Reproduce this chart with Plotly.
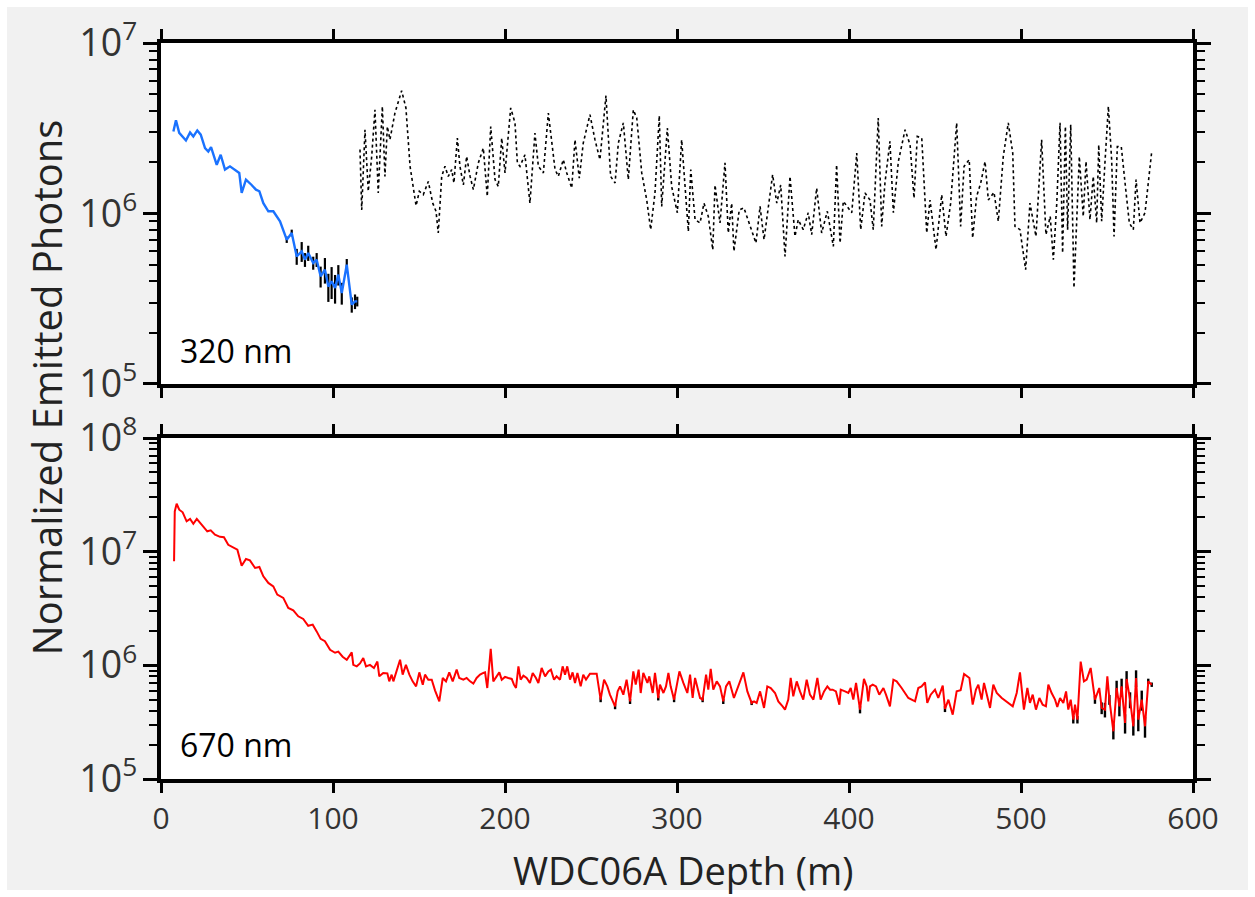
import plotly.graph_objects as go

# ---------------- data ----------------
blue_depth = [7.2, 8.7, 10.6, 14.5, 16.9, 18.8, 21.1, 23.1, 25.6, 27.5, 29.1, 32.4, 34.7, 37.2, 40.1,
              43.6, 45.5, 46.9, 49.4, 52.7, 55.2, 57.2, 59.5, 62.4, 65.3, 69.2, 73.1, 76.0, 78.9, 81.8,
              83.7, 85.6, 88.5, 90.5, 92.8, 95.3, 97.3, 99.2, 101.2, 103.1, 105.1, 108.0, 110.9, 112.8, 114.1]
blue_val = [3.03e6, 3.52e6, 2.97e6, 2.68e6, 2.99e6, 2.83e6, 3.07e6, 2.90e6, 2.42e6, 2.31e6,
            2.45e6, 1.93e6, 2.21e6, 1.81e6, 1.89e6, 1.77e6, 1.73e6, 1.32e6, 1.58e6, 1.47e6,
            1.38e6, 1.35e6, 1.15e6, 1.03e6, 1.03e6, 8.99e5, 7.02e5, 7.69e5, 5.60e5, 6.00e5,
            5.36e5, 5.87e5, 5.13e5, 5.36e5, 4.28e5, 4.68e5, 3.73e5, 4.00e5, 3.66e5, 4.38e5,
            3.42e5, 5.01e5, 2.92e5, 3.05e5, 3.05e5]
blue_err_depth = [73.1, 76.0, 78.9, 81.8, 83.7, 85.6, 88.5, 90.5, 92.8, 95.3, 97.3, 99.2, 101.2,
                  103.1, 105.1, 108.0, 110.9, 112.8, 114.1]
blue_err = [3e4, 3.5e4, 6e4, 8e4, 5e4, 6e4, 4.5e4, 5e4, 6e4, 8e4, 7e4, 8.5e4, 7e4,
            6e4, 5e4, 4e4, 3e4, 3e4, 2e4]

dot_depth = [115.7, 116.7, 118.6, 120.5, 122.5, 124.4, 126.3, 128.7, 130.2, 131.6, 133.1, 136.0, 139.9,
             142.4, 144.8, 146.7, 148.3, 150.2, 152.5, 155.4, 158.0, 159.9, 161.2, 163.2, 165.1, 167.0,
             169.0, 170.3, 172.3, 173.8, 175.8, 177.7, 179.7, 181.6, 184.5, 187.4, 189.7, 191.7, 194.2,
             196.1, 198.1, 200.0, 203.3, 205.8, 207.2, 208.7, 211.6, 214.5, 217.4, 219.4, 222.3, 225.2,
             229.1, 231.0, 233.9, 235.9, 238.8, 240.7, 243.2, 245.5, 249.4, 252.3, 255.2, 258.7, 261.4,
             264.0, 265.9, 268.8, 271.7, 274.6, 276.6, 279.5, 282.4, 284.7, 287.2, 289.7, 291.1, 294.4,
             296.9, 300.2, 302.7, 306.6, 308.0, 310.5, 313.4, 315.7, 318.2, 320.8, 322.1, 325.0, 327.9,
             329.8, 331.8, 333.1, 336.2, 338.9, 343.4, 345.9, 348.3, 350.6, 355.6, 358.0, 360.3, 362.8,
             365.7, 368.6, 370.5, 373.4, 376.3, 378.3, 381.2, 384.1, 387.4, 390.9, 392.8, 394.8, 396.7,
             401.6, 404.5, 406.8, 409.3, 412.2, 414.1, 417.0, 419.0,
             420.9, 423.8, 425.8, 428.7, 432.6, 435.5, 437.8, 439.7, 442.3, 445.2, 447.1, 450.6, 453.9,
             456.4, 459.1, 462.6, 464.9, 466.9, 469.9, 471.9, 474.2, 476.6, 479.1, 481.0, 484.3, 486.8,
             489.7, 492.6, 495.2, 496.5, 499.4, 502.7, 505.2, 508.7, 512.0, 514.5, 517.0, 518.8, 520.8,
             522.7, 524.2, 525.8, 527.1, 528.9, 530.8, 533.9, 536.2, 537.8, 540.1, 542.0, 544.0, 545.2,
             546.9, 548.8, 550.8, 552.7, 554.1, 556.0, 558.3, 561.0, 563.0, 565.3, 566.9, 569.2, 572.1, 576.0]
dot_val = [2.37e6, 1.05e6, 3.10e6, 1.35e6, 2.16e6, 4.06e6, 1.32e6, 4.25e6, 1.65e6, 3.24e6, 2.71e6, 3.88e6, 5.25e6,
           4.16e6, 1.89e6, 1.38e6, 1.11e6, 1.35e6, 1.29e6, 1.54e6, 1.15e6, 1.03e6, 7.69e5, 1.65e6, 1.89e6, 1.65e6,
           1.81e6, 1.51e6, 2.77e6, 1.89e6, 1.47e6, 2.16e6, 1.65e6, 1.38e6, 1.98e6, 2.42e6, 1.26e6, 3.24e6, 1.58e6,
           1.44e6, 2.77e6, 1.73e6, 4.16e6, 3.40e6, 1.98e6, 1.89e6, 2.21e6, 1.15e6, 2.96e6, 1.89e6, 1.73e6, 3.88e6,
           1.81e6, 1.65e6, 2.07e6, 1.73e6, 1.41e6, 2.71e6, 1.61e6, 2.59e6, 3.80e6, 2.71e6, 2.07e6, 4.91e6, 1.65e6,
           1.51e6, 2.59e6, 3.40e6, 1.58e6, 4.06e6, 3.63e6, 1.73e6, 1.20e6, 8.04e5, 1.32e6, 3.75e6, 1.10e6, 3.17e6,
           1.44e6, 1.01e6, 2.71e6, 7.85e5, 1.81e6, 9.20e5, 8.80e5, 1.15e6, 9.61e5, 6.13e5, 1.47e6, 8.80e5, 1.98e6,
           7.69e5, 1.15e6, 6.00e5, 1.05e6, 1.08e6, 8.04e5, 6.71e5, 1.10e6, 7.02e5, 1.69e6, 1.15e6, 1.47e6, 5.60e5,
           1.65e6, 7.34e5, 9.20e5, 8.04e5, 1.01e6, 7.51e5, 1.41e6, 7.69e5, 1.03e6, 6.41e5, 1.93e6, 6.71e5, 1.18e6,
           1.01e6, 2.26e6, 8.04e5, 1.32e6, 1.20e6, 8.04e5, 3.63e6, 8.40e5,
           1.51e6, 2.65e6, 1.01e6, 2.02e6, 3.10e6, 2.53e6, 1.23e6, 2.83e6, 2.77e6, 7.69e5, 1.20e6, 6.13e5, 1.29e6,
           7.34e5, 1.15e6, 3.40e6, 8.40e5, 1.89e6, 2.07e6, 7.18e5, 1.26e6, 1.51e6, 2.02e6, 1.20e6, 1.33e6, 9.00e5,
           2.16e6, 3.40e6, 2.26e6, 8.40e5, 8.04e5, 4.68e5, 1.15e6, 7.34e5, 2.71e6, 7.51e5, 9.61e5, 5.36e5, 1.15e6,
           3.40e6, 5.87e5, 3.24e6, 8.04e5, 3.32e6, 3.66e5, 2.16e6, 9.61e5, 2.02e6, 9.20e5, 1.65e6, 8.80e5, 2.53e6,
           9.00e5, 1.98e6, 4.25e6, 2.07e6, 7.34e5, 2.47e6, 2.47e6, 1.35e6, 8.80e5, 8.04e5, 1.58e6, 8.80e5, 1.01e6, 2.31e6]

red_depth = [7.6, 8.0, 9.1, 10.6, 12.6, 14.9, 16.9, 18.8, 20.8, 23.7, 26.9, 28.9, 31.4, 34.3, 36.6,
             39.1, 41.7, 44.4, 46.9, 49.4, 51.7, 54.7, 57.2, 59.5, 62.4, 65.3, 67.6, 71.1, 74.0, 76.9,
             79.8, 82.7, 85.6, 88.2, 90.5, 92.8, 95.3, 98.3, 101.2, 103.1, 105.6, 108.0, 110.9, 111.8, 113.8,
             115.7, 117.6, 119.2, 121.5, 123.8, 125.8, 126.9, 129.2, 131.6, 132.7, 134.1, 135.1, 136.6, 139.0, 140.5,
             142.4, 144.4, 146.3, 148.3, 150.2, 152.2, 153.5, 155.4, 157.4, 159.3, 161.8, 163.8, 165.7, 167.6, 169.6,
             171.9, 173.4,
             175.8, 177.7, 179.7, 181.6, 183.5, 185.5, 187.4, 188.4, 189.7, 191.7,
             193.2, 195.2, 196.7, 198.1, 200.0, 201.9, 203.9, 205.2, 206.4, 207.8,
             209.1, 210.7, 212.6, 214.5, 216.1, 218.0, 219.4, 221.3, 223.3, 225.2,
             226.7, 228.5, 230.0, 232.0, 233.5, 234.9, 236.2, 237.8, 239.3, 240.7,
             242.1, 244.0, 245.5, 247.1, 249.4, 253.3, 255.6, 257.6, 259.5, 261.0,
             263.0, 264.0, 265.5, 266.9, 268.8, 270.7, 272.7, 274.6, 276.0, 277.7,
             278.9, 280.4, 282.8, 283.9, 285.9, 287.2, 289.1, 290.1, 292.1, 293.6,
             295.0, 296.3, 298.3, 301.4, 303.7, 306.0, 307.6, 309.1, 310.5, 311.8,
             313.4, 314.9, 316.9, 318.2, 319.6, 321.1, 323.1, 325.0, 326.9, 328.5,
             330.4, 333.1, 335.7, 338.6, 340.9, 343.4, 344.8, 346.3, 348.3, 350.6,
             352.5, 354.5, 357.0, 358.9, 361.4, 362.8, 364.7, 366.1, 367.6, 369.6,
             371.5, 373.4, 375.4, 377.3, 379.3, 381.6, 383.5, 385.5, 387.4, 389.0,
             390.5, 392.4, 394.4, 395.2, 397.7, 399.6, 401.0, 402.5, 404.1, 405.4,
             406.4, 408.7, 410.3, 411.2, 412.2, 413.8, 415.7, 417.6, 420.0, 421.5,
             423.8, 425.8, 427.7, 430.6, 434.5, 438.4, 440.3, 442.2, 444.2, 445.5,
             447.5, 450.0, 451.9, 454.5, 455.8, 457.8, 460.3, 462.6, 464.9, 466.9,
             470.0, 471.9, 473.8, 475.2, 477.1, 478.5, 480.0, 482.0, 483.9, 485.9,
             488.8, 492.6, 495.2, 497.5, 499.4, 501.7, 503.7, 505.2, 506.8, 508.7,
             510.7, 512.6, 514.5, 515.9, 517.8, 519.8, 521.1, 522.7, 524.6, 526.2,
             527.5, 528.9, 530.4, 531.4, 532.8, 534.7, 536.6, 538.2, 540.5, 543.0,
             545.5, 546.9, 548.8, 550.2, 551.4, 553.7, 555.6, 557.2, 558.5, 560.5,
             561.4, 563.4, 565.3, 566.9, 568.2, 570.2, 572.1, 574.0, 576.0]
red_val = [8.22e6, 2.26e7, 2.64e7, 2.34e7, 2.22e7, 1.85e7, 1.94e7, 1.76e7, 1.94e7, 1.73e7, 1.51e7, 1.54e7, 1.41e7, 1.35e7, 1.34e7,
           1.15e7, 1.09e7, 1.04e7, 7.53e6, 8.63e6, 8.39e6, 7.19e6, 7.33e6, 6.07e6, 5.31e6, 4.95e6, 4.19e6, 3.92e6, 3.20e6, 3.05e6,
           2.70e6, 2.56e6, 2.23e6, 2.28e6, 1.99e6, 1.71e6, 1.63e6, 1.37e6, 1.29e6, 1.32e6, 1.19e6, 1.12e6, 1.30e6, 1.01e6, 9.80e5,
           1.04e6, 1.16e6, 9.80e5, 1.01e6, 9.48e5, 1.08e6, 8.00e5, 8.57e5, 8.50e5, 7.23e5, 8.28e5, 7.23e5, 8.57e5, 1.12e6, 8.28e5,
           1.01e6, 8.28e5, 7.23e5, 6.53e5, 8.67e5, 6.76e5, 8.28e5, 7.48e5, 7.48e5, 6.03e5, 4.82e5, 7.74e5, 7.23e5, 8.67e5, 7.23e5,
           9.16e5, 7.74e5,
           7.48e5, 7.74e5, 7.23e5, 6.90e5, 7.74e5, 8.28e5, 8.57e5, 8.67e5, 6.32e5, 1.40e6,
           7.23e5, 8.00e5, 8.67e5, 7.48e5, 7.91e5, 7.74e5, 7.59e5, 6.76e5, 6.32e5, 9.80e5,
           7.48e5, 8.11e5, 7.74e5, 7.00e5, 8.57e5, 7.74e5, 7.00e5, 9.48e5, 8.00e5, 8.85e5,
           9.16e5, 7.48e5, 8.00e5, 7.48e5, 9.80e5, 8.28e5, 9.80e5, 7.48e5, 8.67e5, 7.00e5,
           8.57e5, 6.53e5, 8.28e5, 7.48e5, 8.45e5, 8.45e5, 4.99e5, 7.48e5, 6.53e5, 5.52e5,
           4.82e5, 4.36e5, 5.90e5, 6.53e5, 5.52e5, 7.48e5, 4.82e5, 8.85e5, 6.76e5, 9.16e5,
           5.71e5, 8.57e5, 7.00e5, 8.00e5, 5.71e5, 8.57e5, 5.16e5, 6.76e5, 5.71e5, 6.53e5,
           8.57e5, 6.53e5, 4.99e5, 8.85e5, 7.00e5, 5.71e5, 8.28e5, 5.16e5, 7.74e5, 6.53e5,
           5.16e5, 4.99e5, 8.28e5, 6.11e5, 9.29e5, 6.11e5, 7.23e5, 6.53e5, 4.82e5, 6.53e5,
           7.23e5, 5.16e5, 6.53e5, 8.67e5, 5.90e5, 4.67e5, 4.82e5, 4.67e5, 5.90e5, 4.22e5,
           6.53e5, 6.32e5, 5.71e5, 4.82e5, 4.36e5, 4.08e5, 4.99e5, 7.74e5, 5.34e5, 7.23e5,
           5.90e5, 4.99e5, 7.48e5, 5.52e5, 4.99e5, 7.74e5, 4.99e5, 5.90e5, 6.53e5, 6.11e5,
           6.11e5, 5.90e5, 4.51e5, 6.11e5, 5.90e5, 5.71e5, 6.32e5, 4.99e5, 7.00e5, 5.34e5,
           4.08e5, 7.59e5, 6.53e5, 4.82e5, 6.53e5, 6.76e5, 6.53e5, 5.52e5, 6.32e5, 5.52e5,
           4.36e5, 7.48e5, 7.23e5, 6.32e5, 5.16e5, 4.82e5, 6.32e5, 6.53e5, 7.09e5, 4.67e5,
           5.52e5, 6.11e5, 5.16e5, 6.62e5, 4.13e5, 4.99e5, 3.68e5, 5.90e5, 6.03e5, 8.40e5,
           7.74e5, 4.51e5, 6.11e5, 6.76e5, 4.99e5, 7.00e5, 5.64e5, 4.22e5, 6.76e5, 5.71e5,
           5.16e5, 4.67e5, 4.36e5, 5.71e5, 8.67e5, 4.08e5, 6.32e5, 4.67e5, 5.52e5, 4.08e5,
           5.16e5, 4.51e5, 4.36e5, 6.76e5, 5.71e5, 4.99e5, 4.30e5, 5.16e5, 4.67e5, 5.90e5,
           4.08e5, 4.99e5, 3.33e5, 4.51e5, 3.33e5, 1.08e6, 7.23e5, 7.48e5, 9.48e5, 4.99e5,
           6.32e5, 4.22e5, 4.08e5, 8.00e5, 4.99e5, 2.63e5, 6.32e5, 4.36e5, 6.53e5, 3.11e5,
           7.59e5, 4.99e5, 2.91e5, 7.74e5, 3.33e5, 4.99e5, 2.91e5, 7.23e5, 6.76e5]
red_err_depth = [255.6, 264.0, 272.7, 289.1, 298.3, 314.9, 326.9, 343.4, 406.4, 455.8, 530.4, 532.8,
                 543.0, 546.9, 548.8, 551.4, 553.7, 555.6, 557.2, 558.5, 560.5, 561.4, 563.4, 565.3,
                 566.9, 568.2, 570.2, 572.1, 574.0, 576.0]
red_err = [2.5e4, 2.5e4, 2.5e4, 2.5e4, 2.5e4, 2.5e4, 2.5e4, 2e4, 3e4, 2.5e4, 2.5e4, 2.5e4,
           4e4, 5e4, 6e4, 5e4, 4e4, 1.0e5, 8e4, 1.1e5, 6e4, 1.3e5, 8e4, 5e4,
           1.3e5, 7e4, 1.0e5, 6e4, 4e4, 3e4]

x_ticks = [0, 100, 200, 300, 400, 500, 600]
panel_labels = ["320 nm", "670 nm"]
y_title = "Normalized Emitted Photons"
x_title = "WDC06A Depth (m)"

# ---------------- figure ----------------
FONT = "Open Sans, Noto Sans, DejaVu Sans, sans-serif"
TICK_COLOR = "#333333"

blue_lookup = dict(zip(blue_depth, blue_val))
red_lookup = dict(zip(red_depth, red_val))

fig = go.Figure()

fig.add_trace(go.Scatter(
    x=blue_err_depth, y=[blue_lookup[d] for d in blue_err_depth],
    mode="markers", marker=dict(size=1, color="rgba(0,0,0,0)"),
    error_y=dict(type="data", array=blue_err, color="black", thickness=2.2, width=0),
    xaxis="x", yaxis="y", showlegend=False, hoverinfo="skip"))
fig.add_trace(go.Scatter(
    x=blue_depth, y=blue_val, mode="lines",
    line=dict(color="#1a72ff", width=2.4), xaxis="x", yaxis="y", showlegend=False))
fig.add_trace(go.Scatter(
    x=dot_depth, y=dot_val, mode="lines",
    line=dict(color="black", width=1.6, dash="dot"), xaxis="x", yaxis="y", showlegend=False))

fig.add_trace(go.Scatter(
    x=red_err_depth, y=[red_lookup[d] for d in red_err_depth],
    mode="markers", marker=dict(size=1, color="rgba(0,0,0,0)"),
    error_y=dict(type="data", array=red_err, color="black", thickness=2.4, width=0),
    xaxis="x2", yaxis="y2", showlegend=False, hoverinfo="skip"))
fig.add_trace(go.Scatter(
    x=red_depth, y=red_val, mode="lines",
    line=dict(color="#ff0000", width=2.0), xaxis="x2", yaxis="y2", showlegend=False))

common_x = dict(range=[0, 600], tickvals=x_ticks, ticks="outside", ticklen=10, tickwidth=3,
                tickcolor="black", showline=True, linewidth=3.5, linecolor="black",
                mirror="allticks", showgrid=False, zeroline=False,
                tickfont=dict(family=FONT, size=30, color=TICK_COLOR))
common_y = dict(type="log", dtick=1, exponentformat="power", ticks="outside", ticklen=14,
                tickwidth=3, tickcolor="black", showline=True, linewidth=3.5, linecolor="black",
                mirror="allticks", showgrid=False, zeroline=False,
                minor=dict(ticks="outside", ticklen=8, tickwidth=2, tickcolor="black",
                           dtick="D1", showgrid=False),
                tickfont=dict(family=FONT, size=30, color=TICK_COLOR))

fig.update_layout(
    width=1255, height=897, autosize=False,
    margin=dict(l=161, r=62, t=43, b=118, pad=0),
    paper_bgcolor="#f1f1f1", plot_bgcolor="white",
    xaxis=dict(domain=[0, 1], anchor="y", showticklabels=False, **common_x),
    xaxis2=dict(domain=[0, 1], anchor="y2", matches="x", showticklabels=True, **common_x),
    yaxis=dict(domain=[0.5367, 1], anchor="x", range=[5, 7], **common_y),
    yaxis2=dict(domain=[0, 0.4633], anchor="x2", range=[5, 8], **common_y),
    showlegend=False,
    font=dict(family=FONT),
)

fig.add_annotation(text=panel_labels[0], xref="x domain", yref="y domain", x=0.016, y=0.098,
                   xanchor="left", yanchor="middle", showarrow=False,
                   font=dict(family=FONT, size=32, color="black"))
fig.add_annotation(text=panel_labels[1], xref="x2 domain", yref="y2 domain", x=0.016, y=0.10,
                   xanchor="left", yanchor="middle", showarrow=False,
                   font=dict(family=FONT, size=32, color="black"))
fig.add_annotation(text=y_title, xref="paper", yref="paper", x=-0.1114, y=0.532,
                   textangle=-90, xanchor="center", yanchor="middle", showarrow=False,
                   font=dict(family=FONT, size=40, color="#222222"))
fig.add_annotation(text=x_title, xref="paper", yref="paper", x=0.506, y=-0.1236,
                   xanchor="center", yanchor="middle", showarrow=False,
                   font=dict(family=FONT, size=38, color="#222222"))

# thin white frame around the grey page
fig.add_shape(type="rect", xref="paper", yref="paper",
              x0=-161 / 1032, x1=(1255 - 161) / 1032, y0=(779 - 897) / 736, y1=779 / 736,
              line=dict(color="white", width=14), fillcolor="rgba(0,0,0,0)", layer="above")

fig.write_html("out.html", config={"displayModeBar": False},
               post_script="document.body.style.margin='0';document.body.style.overflow='hidden';")
